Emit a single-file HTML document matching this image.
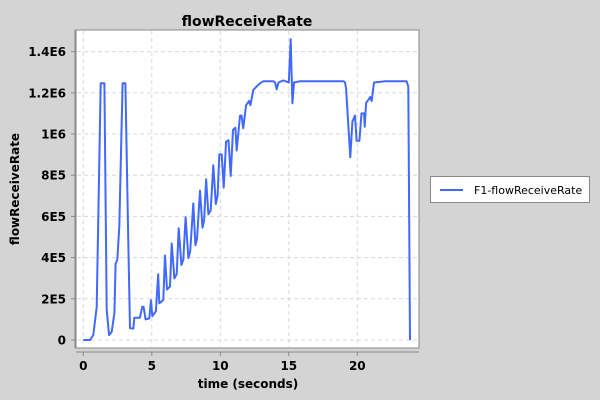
<!DOCTYPE html>
<html><head><meta charset="utf-8"><style>
html,body{margin:0;padding:0;background:#d4d4d4;}
svg{display:block;font-family:"DejaVu Sans","Liberation Sans",sans-serif;}
</style></head><body>
<svg id="chart" width="600" height="400" viewBox="0 0 600 400" xmlns="http://www.w3.org/2000/svg">
<rect x="0" y="0" width="600" height="400" fill="#d4d4d4"/>
<text x="247" y="26" text-anchor="middle" font-size="14" font-weight="bold" fill="#000">flowReceiveRate</text>
<rect x="76" y="30" width="343" height="318" fill="#fff" stroke="#888" stroke-width="1"/>
<g id="grid"></g>
<g id="axes"></g>
<path id="series" fill="none" stroke="#4169ff" stroke-width="2" stroke-linejoin="round"/>
<text x="248" y="388" text-anchor="middle" font-size="12" font-weight="bold">time (seconds)</text>
<text transform="translate(19,189) rotate(-90)" text-anchor="middle" font-size="12" font-weight="bold">flowReceiveRate</text>
<g>
<rect x="430.5" y="176.5" width="159" height="26" fill="#fff" stroke="#888"/>
<line x1="440" y1="190" x2="463" y2="190" stroke="#4169ff" stroke-width="2"/>
<text x="474" y="194" font-size="11">F1-flowReceiveRate</text>
</g>
</svg>
<script>
const xTicks=[0,5,10,15,20];
const yTicks=[0,2e5,4e5,6e5,8e5,1e6,1.2e6,1.4e6];
const yTickLabels=["0","2E5","4E5","6E5","8E5","1E6","1.2E6","1.4E6"];
const times=[0,0.49,0.73,0.98,1.27,1.54,1.71,1.88,2.07,2.27,2.36,2.48,2.63,2.87,3.07,3.26,3.41,3.65,3.72,4.13,4.31,4.4,4.55,4.82,4.94,5.04,5.3,5.47,5.55,5.84,5.96,6.11,6.33,6.45,6.65,6.82,6.96,7.16,7.3,7.47,7.67,7.8,8.03,8.18,8.3,8.52,8.7,8.82,8.96,9.13,9.3,9.49,9.67,9.8,9.93,10.1,10.25,10.42,10.6,10.76,10.93,11.1,11.2,11.44,11.55,11.67,11.88,12.1,12.2,12.41,12.65,12.9,13.14,13.88,14.0,14.12,14.25,14.6,15.0,15.14,15.26,15.38,15.8,17.5,19.0,19.1,19.18,19.35,19.49,19.64,19.83,19.95,20.15,20.31,20.5,20.54,20.64,20.95,21.05,21.22,22.0,23.6,23.72,23.85];
const values=[0,0,0.24,1.6,12.46,12.46,1.46,0.24,0.4,1.3,3.7,3.9,5.5,12.46,12.46,5.5,0.58,0.55,1.08,1.08,1.62,1.6,1.0,1.05,1.93,1.15,1.4,3.19,1.78,1.94,4.1,2.45,2.6,4.69,2.99,3.2,5.42,3.64,3.9,5.96,3.98,4.3,6.63,4.6,4.9,7.25,5.45,5.8,7.8,6.1,6.3,8.48,6.6,7.0,9.01,9.01,7.4,9.63,9.7,7.96,10.2,10.3,9.2,10.89,10.9,10.28,11.4,11.6,11.4,12.14,12.3,12.46,12.56,12.56,12.5,12.17,12.5,12.6,12.5,14.6,11.49,12.5,12.56,12.56,12.56,12.5,12.2,10.35,8.87,10.6,10.9,9.67,9.67,11.0,11.0,10.35,11.5,11.8,11.6,12.5,12.56,12.56,12.3,0];
const X=t=>83.3+t*13.7;
const Y=v=>340-v/2e5*41.2;
const ns="http://www.w3.org/2000/svg";
const grid=document.getElementById('grid'),axes=document.getElementById('axes');
function mk(tag,attrs,parent){const e=document.createElementNS(ns,tag);for(const k in attrs)e.setAttribute(k,attrs[k]);parent.appendChild(e);return e;}
xTicks.forEach(t=>{
  const g=mk('line',{x1:X(t),x2:X(t),y1:31,y2:347,stroke:'#d8d8d8','stroke-dasharray':'4,3'},grid);
  
  
  const tk=mk('line',{x1:X(t),x2:X(t),y1:352,y2:356,stroke:'#888'},axes);
  
  
  const lb=mk('text',{x:X(t),y:370,'text-anchor':'middle','font-size':'12','font-weight':'bold'},axes);
  lb.textContent=String(t);
  
  
});
yTicks.forEach((v,i)=>{
  const g=mk('line',{x1:77,x2:418,y1:Y(v),y2:Y(v),stroke:'#d8d8d8','stroke-dasharray':'4,3'},grid);
  
  
  const tk=mk('line',{x1:71,x2:75,y1:Y(v),y2:Y(v),stroke:'#888'},axes);
  
  
  const lb=mk('text',{x:66,y:Y(v)+4.5,'text-anchor':'end','font-size':'12','font-weight':'bold'},axes);
  lb.textContent=yTickLabels[i];
  
  
});
const ya=mk('line',{x1:75,x2:75,y1:30,y2:348,stroke:'#888'},axes);


const xa=mk('line',{x1:76,x2:419,y1:352,y2:352,stroke:'#888'},axes);


document.getElementById('series').setAttribute('d',times.map((t,i)=>(i?'L':'M')+X(t).toFixed(1)+','+Y(values[i]*1e5).toFixed(1)).join(''));
</script>
</body></html>
